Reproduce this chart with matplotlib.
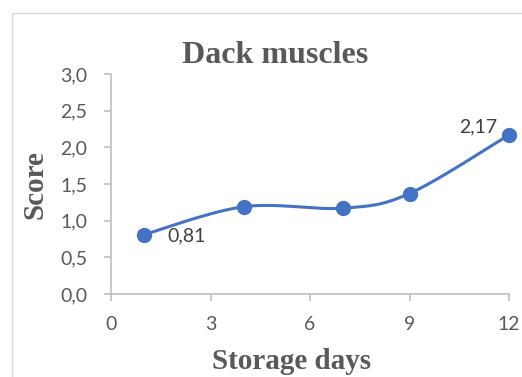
import numpy as np
import matplotlib
matplotlib.use("Agg")
import matplotlib.pyplot as plt
from matplotlib.patches import Rectangle
from matplotlib.ticker import FuncFormatter

days = [1, 4, 7, 9, 12]
scores = [0.81, 1.19, 1.17, 1.37, 2.17]
labelled = {0: "0,81", 4: "2,17"}

LINE_BLUE = "#4472C4"
TEXT_GRAY = "#595959"
AXIS_GRAY = "#BFBFBF"


def smooth_curve(x, y, steps=40):
    # Bezier segments with Catmull-Rom style control points
    x = np.asarray(x, float)
    y = np.asarray(y, float)
    px = np.concatenate([[x[0]], x, [x[-1]]])
    py = np.concatenate([[y[0]], y, [y[-1]]])
    out_x, out_y = [], []
    t = np.linspace(0, 1, steps)
    for i in range(1, len(px) - 2):
        p0 = np.array([px[i], py[i]])
        p3 = np.array([px[i + 1], py[i + 1]])
        p1 = p0 + (np.array([px[i + 1], py[i + 1]]) - np.array([px[i - 1], py[i - 1]])) / 6
        p2 = p3 - (np.array([px[i + 2], py[i + 2]]) - np.array([px[i], py[i]])) / 6
        b = ((1 - t) ** 3)[:, None] * p0 + (3 * (1 - t) ** 2 * t)[:, None] * p1 \
            + (3 * (1 - t) * t ** 2)[:, None] * p2 + (t ** 3)[:, None] * p3
        out_x.extend(b[:, 0])
        out_y.extend(b[:, 1])
    return out_x, out_y


fig = plt.figure(figsize=(5.22, 3.77), dpi=100)
fig.patches.append(Rectangle((12 / 522, -0.1), 1.2, 1 - 13 / 377 + 0.1,
                             transform=fig.transFigure, fill=False,
                             edgecolor="#D9D9D9", linewidth=1.0))

ax = fig.add_axes([111 / 522, 1 - 294 / 377, 398 / 522, 220 / 377])

sx, sy = smooth_curve(days, scores)
ax.plot(sx, sy, color=LINE_BLUE, linewidth=2.2, solid_capstyle="round", zorder=3)
ax.plot(days, scores, "o", color=LINE_BLUE, markersize=10, zorder=4, clip_on=False)

ax.annotate(labelled[0], (days[0], scores[0]), xytext=(16.5, -1), textcoords="offset points",
            ha="left", va="center", fontsize=14, color="#404040", family="Lato")
ax.annotate(labelled[4], (days[4], scores[4]), xytext=(-8.5, 6), textcoords="offset points",
            ha="right", va="center", fontsize=14, color="#404040", family="Lato")

ax.set_xlim(0, 12)
ax.set_ylim(0, 3)
ax.set_xticks([0, 3, 6, 9, 12])
ax.set_yticks(np.arange(0, 3.01, 0.5))
ax.yaxis.set_major_formatter(FuncFormatter(lambda v, p: f"{v:.1f}".replace(".", ",")))

for side in ("top", "right"):
    ax.spines[side].set_visible(False)
for side in ("left", "bottom"):
    ax.spines[side].set_color(AXIS_GRAY)
    ax.spines[side].set_linewidth(1.2)
ax.tick_params(direction="out", length=5, width=1.2, color=AXIS_GRAY,
               labelcolor=TEXT_GRAY, labelsize=14)
ax.tick_params(axis="y", pad=12)
ax.tick_params(axis="x", pad=11)
for lab in ax.get_xticklabels() + ax.get_yticklabels():
    lab.set_family("Lato")

fig.text(275 / 522, 1 - 63 / 377, "Dack muscles", ha="center", va="baseline",
         fontsize=23, fontweight="bold", color=TEXT_GRAY, family="Liberation Serif")
fig.text(35 / 522, 1 - 185 / 377, "Score", ha="center", va="center", rotation=90,
         fontsize=21, fontweight="bold", color=TEXT_GRAY, family="Liberation Serif")
fig.text(292 / 522, 1 - 369 / 377, "Storage days", ha="center", va="baseline",
         fontsize=21, fontweight="bold", color=TEXT_GRAY, family="Liberation Serif")

fig.savefig("out.png", dpi=100)
